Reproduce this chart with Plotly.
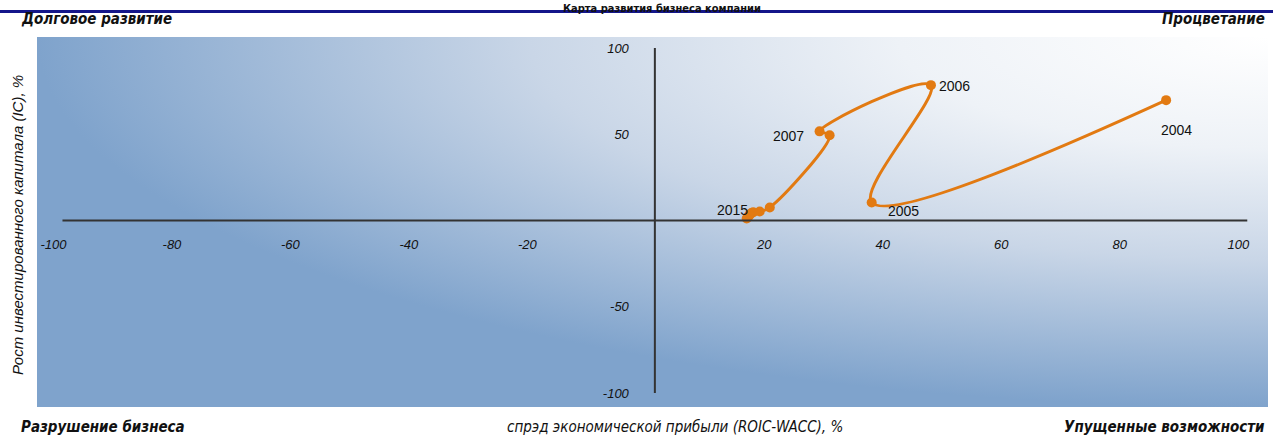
import base64
import plotly.graph_objects as go

# ---- data ----
years = ["2004", "2005", "2006", "2007", "2008", "2009", "2010", "2011", "2012", "2013", "2014", "2015"]
spread = [86.3, 36.6, 46.6, 27.8, 29.5, 19.4, 17.7, 16.6, 16.3, 16.0, 15.8, 15.5]   # ROIC-WACC, %
ic_growth = [69.8, 10.5, 78.5, 51.7, 49.4, 7.6, 5.2, 4.8, 4.3, 3.4, 2.4, 1.2]      # IC growth, %
labeled = ["2004", "2005", "2006", "2007", "2015"]
x_ticks = [-100, -80, -60, -40, -20, 20, 40, 60, 80, 100]
y_ticks = [-100, -50, 50, 100]

W, H = 1273, 437
L, R, T, B = 37, 5, 37, 30
PW, PH = W - L - R, H - T - B
XR = [-104.3, 103.5]
YR = [-108.1, 106.4]

def px(x):  # pixel -> paper x
    return (x - L) / PW

def py(y):  # pixel -> paper y
    return (H - B - y) / PH

ORANGE = "#e27a12"
NARROW = "Liberation Sans Narrow, Arial Narrow, DejaVu Sans Condensed, sans-serif"
SANS = "Liberation Sans, Arial, sans-serif"

svg = f'''<svg xmlns="http://www.w3.org/2000/svg" width="{PW}" height="{PH}" viewBox="0 0 {PW} {PH}" preserveAspectRatio="none">
<defs><radialGradient id="g" cx="1" cy="0" r="1" gradientUnits="objectBoundingBox">
<stop offset="0" stop-color="#ffffff"/><stop offset="0.3" stop-color="#eef2f7"/>
<stop offset="0.6" stop-color="#c9d6e7"/><stop offset="1" stop-color="#7fa3cc"/></radialGradient></defs>
<rect x="0" y="0" width="{PW}" height="{PH}" fill="url(#g)"/></svg>'''
src = "data:image/svg+xml;base64," + base64.b64encode(svg.encode()).decode()

fig = go.Figure()
fig.add_trace(go.Scatter(
    x=spread, y=ic_growth, mode="lines+markers",
    line=dict(color=ORANGE, width=3, shape="spline", smoothing=1.0),
    marker=dict(color=ORANGE, size=10),
    hoverinfo="x+y+text", text=years, showlegend=False,
))

offsets = {"2004": (10, -30), "2005": (32, -9), "2006": (24, -1), "2007": (-31, -5), "2015": (-14, 8)}
for yr, xv, yv in zip(years, spread, ic_growth):
    if yr in labeled:
        dx, dy = offsets[yr]
        fig.add_annotation(x=xv, y=yv, text=yr, showarrow=False, xshift=dx, yshift=dy,
                           font=dict(family=SANS, size=14, color="#111111"))

y0 = (0 - YR[0]) / (YR[1] - YR[0])
x0 = (0 - XR[0]) / (XR[1] - XR[0])

fig.update_layout(
    width=W, height=H,
    margin=dict(l=L, r=R, t=T, b=B),
    paper_bgcolor="white", plot_bgcolor="#a9bfdc",
    images=[dict(source=src, xref="paper", yref="paper", x=0, y=1, sizex=1, sizey=1,
                 sizing="stretch", xanchor="left", yanchor="top", layer="below")],
    xaxis=dict(range=XR, anchor="free", position=y0, tickvals=x_ticks, ticktext=[str(v) for v in x_ticks],
               showgrid=False, zeroline=False, showline=False, ticks="", ticklabelstandoff=14,
               ticklabelshift=-9,
               tickfont=dict(family=SANS, size=13, color="#111111", style="italic")),
    yaxis=dict(range=YR, anchor="free", position=x0, tickvals=y_ticks, ticktext=[str(v) for v in y_ticks],
               showgrid=False, zeroline=False, showline=False, ticks="", ticklabelstandoff=26,
               tickfont=dict(family=SANS, size=13, color="#111111", style="italic")),
    shapes=[
        dict(type="line", xref="x", yref="y", x0=-100, x1=100, y0=0, y1=0, line=dict(color="#333333", width=2)),
        dict(type="line", xref="x", yref="y", x0=0, x1=0, y0=-100, y1=100, line=dict(color="#333333", width=2)),
        dict(type="line", xref="paper", yref="paper", x0=px(0), x1=px(W), y0=py(11.5), y1=py(11.5),
             line=dict(color="#14168a", width=3)),
    ],
)

corner = dict(family=NARROW, size=15, color="#111111", weight="bold", style="italic")
ann = [
    dict(text="Карта развития бизнеса компании", x=px(662), y=py(0), xanchor="center", yanchor="top",
         font=dict(family=NARROW, size=11, color="#111111", weight="bold")),
    dict(text="Долговое развитие", x=px(19), y=py(19), xanchor="left", yanchor="middle", font=corner),
    dict(text="Процветание", x=px(1267), y=py(19), xanchor="right", yanchor="middle", font=corner),
    dict(text="Разрушение бизнеса", x=px(19), y=py(427), xanchor="left", yanchor="middle", font=corner),
    dict(text="Упущенные возможности", x=px(1267), y=py(427), xanchor="right", yanchor="middle", font=corner),
    dict(text="спрэд экономической прибыли (ROIC-WACC), %", x=px(675), y=py(427), xanchor="center", yanchor="middle",
         font=dict(family=NARROW, size=15, color="#111111", style="italic")),
    dict(text="Рост инвестированного капитала (IC), %", x=px(18), y=py(225), xanchor="center", yanchor="middle",
         textangle=-90, font=dict(family=SANS, size=15, color="#111111", style="italic")),
]
for a in ann:
    fig.add_annotation(xref="paper", yref="paper", showarrow=False, **a)

fig.write_html("out.html")
